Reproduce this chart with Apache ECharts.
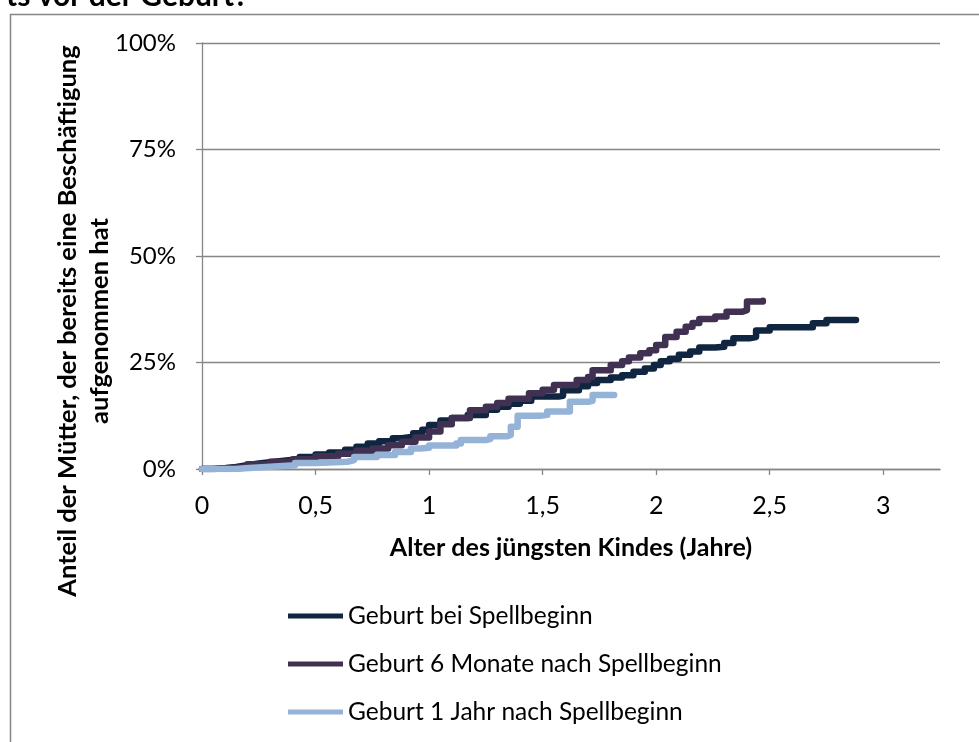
<!DOCTYPE html>
<html><head><meta charset="utf-8">
<script src="https://cdn.jsdelivr.net/npm/echarts@6/dist/echarts.min.js"></script>
<style>html,body{margin:0;padding:0;background:#fff}#c{width:979px;height:742px}</style>
</head><body><div id="c"></div>
<script>
const xTicks = [0, 0.5, 1, 1.5, 2, 2.5, 3];
const yTicks = [0, 25, 50, 75, 100];
const seriesNames = ['Geburt bei Spellbeginn', 'Geburt 6 Monate nach Spellbeginn', 'Geburt 1 Jahr nach Spellbeginn'];

const timeA = [0, 0.05, 0.1, 0.15, 0.2, 0.25, 0.3, 0.37, 0.43, 0.5, 0.56, 0.63, 0.68, 0.73, 0.78, 0.84, 0.88, 0.93, 0.97, 1.0, 1.05, 1.1, 1.17, 1.25, 1.3, 1.35, 1.4, 1.45, 1.57, 1.59, 1.66, 1.7, 1.74, 1.8, 1.85, 1.9, 1.95, 1.99, 2.02, 2.06, 2.1, 2.15, 2.19, 2.26, 2.3, 2.34, 2.41, 2.44, 2.5, 2.69, 2.75, 2.88];
const shareA = [0, 0.2, 0.5, 0.9, 1.3, 1.6, 2.0, 2.3, 2.8, 3.4, 3.9, 4.5, 5.2, 6.0, 6.5, 7.2, 7.6, 8.4, 9.2, 10.3, 11.4, 12.0, 12.7, 13.9, 14.6, 15.3, 16.0, 17.0, 17.2, 18.5, 19.4, 20.2, 20.9, 21.5, 22.0, 22.8, 23.6, 24.4, 25.3, 25.9, 26.8, 27.6, 28.5, 28.7, 29.6, 30.7, 31.0, 32.5, 33.3, 34.2, 35.0, 35.0];

const timeB = [0, 0.05, 0.1, 0.2, 0.3, 0.4, 0.5, 0.6, 0.68, 0.75, 0.82, 0.88, 0.94, 1.0, 1.05, 1.1, 1.18, 1.25, 1.3, 1.35, 1.44, 1.5, 1.55, 1.65, 1.7, 1.72, 1.8, 1.85, 1.88, 1.93, 1.97, 2.0, 2.04, 2.09, 2.13, 2.16, 2.19, 2.26, 2.31, 2.38, 2.40, 2.47];
const shareB = [0, 0.2, 0.5, 1.1, 1.7, 2.3, 3.0, 3.6, 4.3, 4.8, 5.6, 6.4, 7.4, 8.8, 10.5, 12.0, 13.8, 14.6, 15.5, 16.5, 17.8, 18.6, 19.7, 20.9, 21.6, 23.2, 24.4, 25.3, 26.2, 27.2, 27.9, 29.1, 31.0, 32.2, 33.4, 34.3, 35.2, 35.8, 36.9, 37.3, 39.3, 39.5];

const timeC = [0, 0.15, 0.19, 0.3, 0.41, 0.5, 0.64, 0.67, 0.77, 0.85, 0.92, 0.96, 1.0, 1.12, 1.14, 1.25, 1.27, 1.345, 1.36, 1.39, 1.49, 1.52, 1.60, 1.62, 1.705, 1.72, 1.815];
const shareC = [0, 0.2, 0.5, 0.9, 1.4, 1.7, 2.1, 2.8, 3.3, 4.0, 4.8, 5.0, 5.5, 6.0, 6.8, 7.0, 7.7, 8.0, 9.9, 12.5, 12.7, 13.5, 13.5, 15.8, 16.0, 17.4, 17.4];

const colors = ['#10253F', '#403152', '#95B3D7'];
const zip = (a, b) => a.map((v, i) => [v, b[i]]);
const seriesData = [zip(timeA, shareA), zip(timeB, shareB), zip(timeC, shareC)];

const FONT = 'Lato';
const GRAY = '#868686';

const chart = echarts.init(document.getElementById('c'), null, {renderer: 'canvas'});
chart.setOption({
  animation: false,
  backgroundColor: '#fff',
  color: colors,
  grid: {left: 202, right: 39, top: 43, bottom: 273, containLabel: false},
  xAxis: {
    type: 'value', min: 0, max: 3.25, interval: 0.5,
    name: 'Alter des jüngsten Kindes (Jahre)',
    nameLocation: 'middle', nameGap: 66,
    nameTextStyle: {fontFamily: FONT, fontWeight: 'bold', fontSize: 25, color: '#000', verticalAlign: 'top'},
    axisLine: {show: true, lineStyle: {color: GRAY, width: 1.3}},
    axisTick: {show: true, length: 6, customValues: xTicks, lineStyle: {color: GRAY, width: 1.3}},
    axisLabel: {customValues: xTicks, margin: 24, fontFamily: FONT, fontSize: 25, color: '#000',
      formatter: v => String(v).replace('.', ',')},
    splitLine: {show: false}
  },
  yAxis: {
    type: 'value', min: 0, max: 100, interval: 25,
    axisLine: {show: true, lineStyle: {color: GRAY, width: 1.3}},
    axisTick: {show: true, length: 6, lineStyle: {color: GRAY, width: 1.3}},
    axisLabel: {margin: 26, fontFamily: FONT, fontSize: 24, color: '#000', formatter: '{value}%'},
    splitLine: {show: true, lineStyle: {color: GRAY, width: 1.3}}
  },
  legend: {
    orient: 'vertical', left: 288, top: 603, padding: 0, itemWidth: 55, itemHeight: 5, itemGap: 22,
    icon: 'rect',
    textStyle: {fontFamily: FONT, fontSize: 24.5, color: '#000', lineHeight: 26},
    data: seriesNames
  },
  series: seriesData.map((d, i) => ({
    name: seriesNames[i], type: 'line', step: 'end', data: d, symbol: 'none',
    lineStyle: {width: 6.5, color: colors[i], cap: 'round', join: 'round'},
    itemStyle: {color: colors[i]}
  })),
  graphic: [
    {type: 'polyline', shape: {points: [[10.5, 742], [10.5, 14.5], [979, 14.5]]}, style: {stroke: GRAY, lineWidth: 1.5, fill: null}, silent: true},
    {type: 'text', x: 248, y: 11, style: {text: 'ts vor der Geburt?', font: 'bold 30px Lato', fill: '#000', textAlign: 'right', textVerticalAlign: 'bottom'}},
    {type: 'text', x: 84, y: 321, rotation: Math.PI / 2,
      style: {text: 'Anteil der Mütter, der bereits eine Beschäftigung\naufgenommen hat', font: 'bold 25.5px Lato', lineHeight: 32, fill: '#000', textAlign: 'center', textVerticalAlign: 'middle'}}
  ]
});
</script></body></html>
